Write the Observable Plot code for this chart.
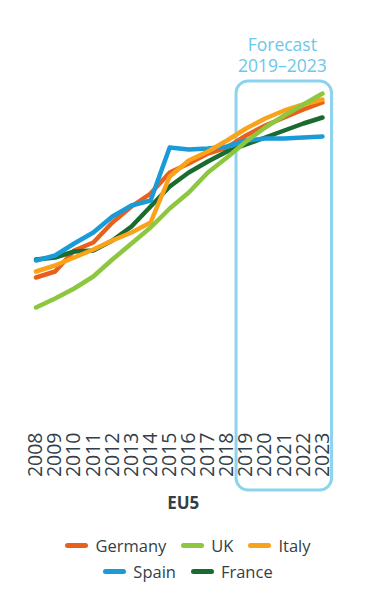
<!DOCTYPE html>
<html>
<head>
<meta charset="utf-8">
<script src="https://cdn.jsdelivr.net/npm/d3@7"></script>
<script src="https://cdn.jsdelivr.net/npm/@observablehq/plot@0.6"></script>
<style>
  body { margin: 0; background: #fff; font-family: "Open Sans", sans-serif; }
  #legend { width: 256px; margin-left: 60px; display: flex; flex-wrap: wrap; justify-content: center; column-gap: 15px; row-gap: 0px; padding-top: 2px; }
  .item { display: flex; align-items: center; height: 26px; font-size: 16.5px; color: #333f48; }
  .sw { width: 23px; height: 5px; border-radius: 3px; margin-right: 7px; }
</style>
</head>
<body>
<div id="chart"></div>
<div id="legend"></div>
<script>
const years = [2008, 2009, 2010, 2011, 2012, 2013, 2014, 2015, 2016, 2017, 2018, 2019, 2020, 2021, 2022, 2023];
const countries = ["Germany", "UK", "Italy", "Spain", "France"];
const colors = ["#e8611c", "#8dc63f", "#f9a31a", "#1a9bd7", "#1a6b2f"];
const germany = [151, 157, 178, 186, 206, 222, 235, 256, 265, 275, 281, 293, 303, 311, 319, 326];
const uk      = [121, 130, 140, 152, 169, 185, 201, 220, 236, 256, 271, 287, 301, 313, 324, 335];
const italy   = [157, 163, 171, 179, 188, 196, 206, 252, 268, 277, 288, 300, 310, 318, 324, 329];
const spain   = [168, 173, 185, 196, 212, 223, 228, 281, 279, 280, 282, 288, 290, 290, 291, 292];
const france  = [169, 171, 177, 178, 188, 202, 222, 242, 256, 267, 277, 284, 291, 298, 305, 311];
const forecastStart = 2019, forecastEnd = 2023;
const forecastTitle = "Forecast\n2019–2023";
const groupLabel = "EU5";

const seriesByName = {Germany: germany, UK: uk, Italy: italy, Spain: spain, France: france};
const drawOrder = ["Germany", "France", "Spain", "Italy", "UK"];
const data = drawOrder.flatMap(c => years.map((y, i) => ({country: c, year: y, value: seriesByName[c][i]})));

const boxColor = "#8dd3ee";
const chart = Plot.plot({
  width: 373,
  height: 530,
  marginLeft: 35.5,
  marginRight: 51,
  marginTop: 80,
  marginBottom: 102,
  style: {fontFamily: "Open Sans", background: "#fff"},
  x: {domain: [2008, 2023], axis: null},
  y: {domain: [0, 348], axis: null},
  color: {domain: countries, range: colors},
  marks: [
    Plot.rect([{start: forecastStart - 0.5, end: forecastEnd + 0.5}], {
      x1: "start", x2: "end", fill: "none", stroke: boxColor, strokeWidth: 3, rx: 12, insetBottom: -62, insetTop: 1
    }),
    Plot.line(data, {x: "year", y: "value", z: "country", stroke: "country", strokeWidth: 4.5, strokeLinecap: "round", strokeLinejoin: "round"}),
    Plot.axisX({ticks: years, tickFormat: d => String(d), tickRotate: -90, tickSize: 0, tickPadding: 4, fontSize: 19.5, fill: "#333f48", label: null}),
    Plot.text([forecastTitle], {x: (forecastStart + forecastEnd) / 2, frameAnchor: "top", lineAnchor: "middle", dy: -26, dx: -2, text: d => d, fill: "#6ec6ea", fontSize: 17.5, lineHeight: 1.25}),
    Plot.text([groupLabel], {frameAnchor: "bottom", dy: 80, dx: 4, text: d => d, fill: "#333f48", fontSize: 17, fontWeight: "bold"})
  ]
});
document.getElementById("chart").appendChild(chart);

const legend = document.getElementById("legend");
countries.forEach((c, i) => {
  const item = document.createElement("div");
  item.className = "item";
  const sw = document.createElement("span");
  sw.className = "sw";
  sw.style.background = colors[i];
  item.appendChild(sw);
  item.appendChild(document.createTextNode(c));
  legend.appendChild(item);
});
</script>
</body>
</html>
